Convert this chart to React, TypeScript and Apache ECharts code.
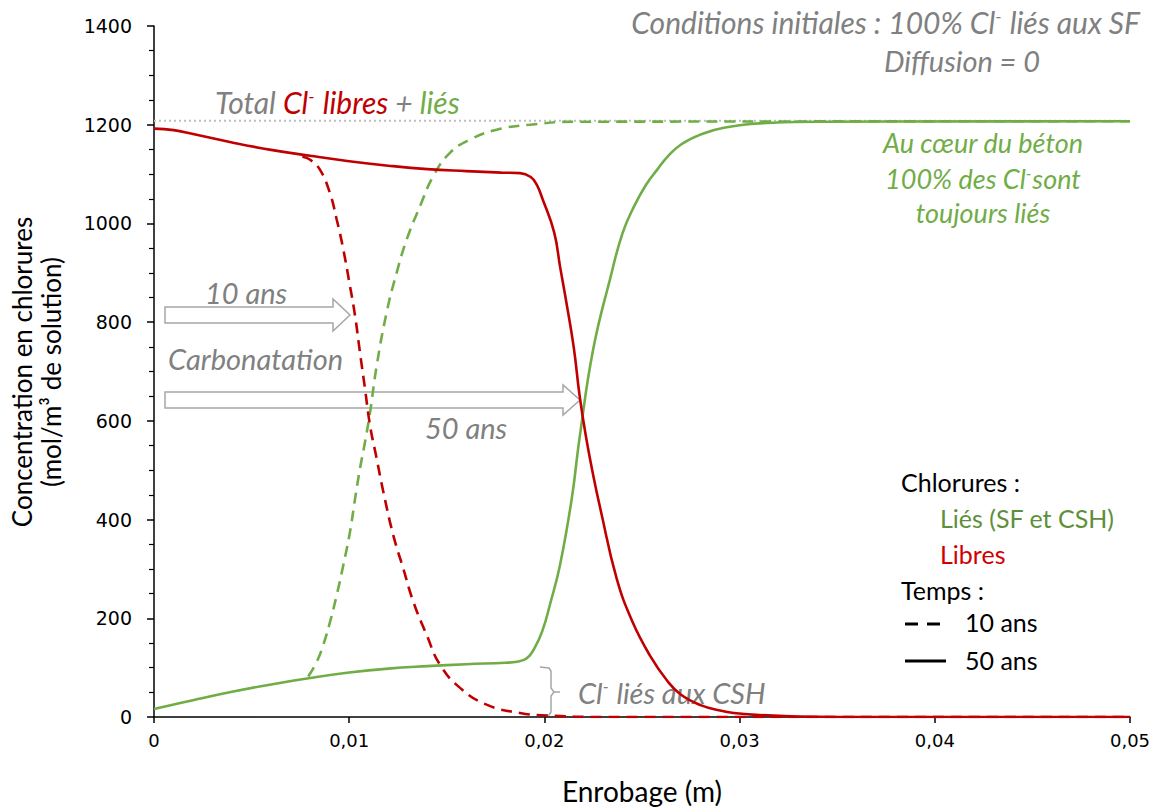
import React, { useEffect, useRef } from "react";
import * as echarts from "echarts";

// Enrobage (m), concentration (mol/m3 de solution)
const libres50: [number, number][] = [
  [0, 1192], [0.001, 1189], [0.002, 1181], [0.004, 1164], [0.006, 1149], [0.008, 1137], [0.01, 1126],
  [0.012, 1117], [0.014, 1110], [0.016, 1106], [0.0178, 1103], [0.01875, 1102], [0.0193, 1094],
  [0.0196, 1079], [0.0199, 1050], [0.0205, 982], [0.0208, 913], [0.0211, 846], [0.0215, 750],
  [0.0218, 652], [0.0221, 575], [0.0225, 490], [0.0229, 416], [0.0237, 281], [0.0245, 194],
  [0.0254, 125], [0.0263, 73], [0.027, 45], [0.028, 24], [0.029, 13], [0.0297, 8], [0.031, 4],
  [0.033, 1], [0.035, 0], [0.05, 0],
];
const lies50: [number, number][] = [
  [0, 16], [0.002, 34], [0.004, 51], [0.006, 66], [0.008, 79], [0.01, 90], [0.012, 98], [0.014, 103],
  [0.016, 107], [0.018, 110], [0.0186, 112], [0.0191, 119], [0.0195, 140], [0.0199, 175], [0.0203, 230],
  [0.0208, 308], [0.0214, 442], [0.0218, 565], [0.0225, 745], [0.0234, 893], [0.024, 980], [0.0246, 1035],
  [0.0252, 1078], [0.0258, 1110], [0.0263, 1135], [0.027, 1160], [0.028, 1180], [0.0292, 1194],
  [0.0317, 1204], [0.0343, 1206], [0.05, 1207],
];
const libres10: [number, number][] = [
  [0.0076, 1135], [0.008, 1129], [0.0085, 1109], [0.009, 1063], [0.00936, 1008], [0.0097, 947],
  [0.01004, 873], [0.0103, 813], [0.01055, 739], [0.01081, 665], [0.01107, 590], [0.01141, 523],
  [0.01175, 456], [0.01226, 368], [0.01277, 301], [0.01328, 234], [0.01397, 166], [0.01465, 106],
  [0.01568, 59], [0.01704, 25], [0.01875, 8], [0.0201, 3], [0.023, 0], [0.05, 0],
];
const lies10: [number, number][] = [
  [0.0079, 82], [0.00834, 112], [0.00867, 146], [0.00902, 193], [0.00936, 247], [0.0097, 308],
  [0.01004, 375], [0.0103, 442], [0.01055, 503], [0.01081, 557], [0.01107, 618], [0.01141, 712],
  [0.01192, 820], [0.01243, 900], [0.01295, 968], [0.01363, 1035], [0.01431, 1096], [0.01516, 1143],
  [0.01619, 1170], [0.01756, 1190], [0.01926, 1200], [0.0215, 1206], [0.05, 1207],
];
const totalLine: [number, number][] = [[0, 1208], [0.05, 1208]];

const RED = "#c00000";
const GREEN = "#70ad47";
const GRAY = "#808080";
const FONT = "Lato, 'Open Sans', sans-serif";
const NUMFONT = "'DejaVu Sans', sans-serif";

export default function App() {
  const ref = useRef<HTMLDivElement>(null);
  useEffect(() => {
    const chart = echarts.init(ref.current!, null, { renderer: "svg" });
    const lineSeries = (name: string, data: [number, number][], color: string, dashed: boolean, z: number) => ({
      name,
      type: "line",
      data,
      symbol: "none",
      smooth: 0.45,
      z,
      lineStyle: { color, width: 2.6, type: dashed ? [11, 7] : "solid" },
    });
    const it = (text: string, x: number, y: number, color: string, size = 28, align = "left") => ({
      type: "text",
      x,
      y,
      style: { text, fill: color, font: `italic ${size}px ${FONT}`, align, verticalAlign: "middle" },
    });
    const arrow = (x0: number, x1: number, xh: number, yc: number, bh: number, hh: number) => ({
      type: "polygon",
      shape: {
        points: [
          [x0, yc - bh], [xh, yc - bh], [xh, yc - hh], [x1, yc], [xh, yc + hh], [xh, yc + bh], [x0, yc + bh],
        ],
      },
      style: { fill: "rgba(255,255,255,0)", stroke: "#a6a6a6", lineWidth: 1.5 },
    });
    const sup = (color: string, size: number) => ({
      fill: color,
      font: `italic ${size}px ${FONT}`,
      verticalAlign: "top",
      padding: [0, 1, 12, 0],
    });
    chart.setOption({
      animation: false,
      grid: { left: 154, right: 30, top: 26, bottom: 91 },
      xAxis: {
        type: "value",
        min: 0,
        max: 0.05,
        interval: 0.01,
        name: "Enrobage (m)",
        nameLocation: "middle",
        nameGap: 60,
        nameTextStyle: { fontFamily: FONT, fontSize: 28, color: "#000" },
        axisLine: { lineStyle: { color: "#000", width: 1.5 } },
        axisTick: { length: 6, lineStyle: { color: "#000", width: 1.5 } },
        axisLabel: {
          fontFamily: NUMFONT,
          fontSize: 18,
          color: "#000",
          margin: 14,
          formatter: (v: number) => (v === 0 ? "0" : v.toFixed(2).replace(".", ",")),
        },
        splitLine: { show: false },
      },
      yAxis: {
        type: "value",
        min: 0,
        max: 1400,
        interval: 200,
        axisLine: { show: true, lineStyle: { color: "#000", width: 1.5 } },
        axisTick: { show: true, length: 7, lineStyle: { color: "#000", width: 1.5 } },
        minorTick: { show: true, splitNumber: 4, length: 5, lineStyle: { color: "#000", width: 1.2 } },
        axisLabel: { fontFamily: NUMFONT, fontSize: 19, color: "#000", margin: 22, formatter: (v: number) => String(v) },
        splitLine: { show: false },
      },
      series: [
        {
          name: "Total",
          type: "line",
          data: totalLine,
          symbol: "none",
          z: 1,
          lineStyle: { color: "#bfbfbf", width: 2, type: [2, 3] },
        },
        lineSeries("Liés 10 ans", lies10, GREEN, true, 2),
        lineSeries("Libres 10 ans", libres10, RED, true, 2),
        lineSeries("Liés 50 ans", lies50, GREEN, false, 3),
        lineSeries("Libres 50 ans", libres50, RED, false, 3),
      ],
      graphic: [
        {
          type: "text",
          x: 22,
          y: 372,
          rotation: Math.PI / 2,
          style: { text: "Concentration en chlorures", fill: "#000", font: `26px ${FONT}`, align: "center", verticalAlign: "middle" },
        },
        {
          type: "text",
          x: 51,
          y: 372,
          rotation: Math.PI / 2,
          style: { text: "(mol/m³ de solution)", fill: "#000", font: `26px ${FONT}`, align: "center", verticalAlign: "middle" },
        },
        {
          type: "text",
          x: 1140,
          y: 22,
          style: {
            text: "{n|Conditions initiales : 100% Cl}{s|-}{n| liés aux SF}",
            align: "right",
            verticalAlign: "middle",
            rich: {
              n: { fill: GRAY, font: `italic 30px ${FONT}` },
              s: sup(GRAY, 18),
            },
          },
        },
        it("Diffusion = 0", 962, 60, GRAY, 29, "center"),
        {
          type: "text",
          x: 215,
          y: 102,
          style: {
            text: "{g|Total }{r|Cl}{rs|-}{r| libres }{g|+ }{v|liés}",
            verticalAlign: "middle",
            rich: {
              g: { fill: GRAY, font: `italic 30px ${FONT}` },
              r: { fill: RED, font: `italic 30px ${FONT}` },
              rs: sup(RED, 18),
              v: { fill: GREEN, font: `italic 30px ${FONT}` },
            },
          },
        },
        it("Au cœur du béton", 983, 142, GREEN, 27, "center"),
        {
          type: "text",
          x: 983,
          y: 178,
          style: {
            text: "{n|100% des Cl}{s|-}{n|sont}",
            align: "center",
            verticalAlign: "middle",
            rich: {
              n: { fill: GREEN, font: `italic 27px ${FONT}` },
              s: sup(GREEN, 16),
            },
          },
        },
        it("toujours liés", 983, 212, GREEN, 27, "center"),
        arrow(165, 350, 333, 315, 8, 16),
        arrow(165, 580, 563, 400, 8, 15),
        it("10 ans", 205, 292, GRAY, 29),
        it("Carbonatation", 168, 358, GRAY, 29),
        it("50 ans", 425, 427, GRAY, 29),
        {
          type: "text",
          x: 578,
          y: 692,
          style: {
            text: "{n|Cl}{s|-}{n| liés aux CSH}",
            verticalAlign: "middle",
            rich: {
              n: { fill: GRAY, font: `italic 29px ${FONT}` },
              s: sup(GRAY, 17),
            },
          },
        },
        {
          type: "polyline",
          shape: {
            points: [[540, 667], [549, 668], [551, 671], [551, 688], [554, 692], [551, 696], [551, 712], [549, 715], [540, 716]],
          },
          style: { stroke: "#a6a6a6", lineWidth: 1.5, fill: "none" },
        },
        { type: "line", shape: { x1: 553, y1: 692, x2: 560, y2: 692 }, style: { stroke: "#a6a6a6", lineWidth: 1.5 } },
        { type: "text", x: 901, y: 482, style: { text: "Chlorures :", fill: "#000", font: `25px ${FONT}`, verticalAlign: "middle" } },
        { type: "text", x: 940, y: 518, style: { text: "Liés (SF et CSH)", fill: "#5e8f3a", font: `25px ${FONT}`, verticalAlign: "middle" } },
        { type: "text", x: 940, y: 554, style: { text: "Libres", fill: "#d00000", font: `25px ${FONT}`, verticalAlign: "middle" } },
        { type: "text", x: 901, y: 590, style: { text: "Temps :", fill: "#000", font: `25px ${FONT}`, verticalAlign: "middle" } },
        { type: "line", shape: { x1: 905, y1: 624, x2: 946, y2: 624 }, style: { stroke: "#000", lineWidth: 3, lineDash: [13, 9] } },
        { type: "text", x: 965, y: 622, style: { text: "10 ans", fill: "#000", font: `25px ${FONT}`, verticalAlign: "middle" } },
        { type: "line", shape: { x1: 905, y1: 661, x2: 946, y2: 661 }, style: { stroke: "#000", lineWidth: 3 } },
        { type: "text", x: 965, y: 660, style: { text: "50 ans", fill: "#000", font: `25px ${FONT}`, verticalAlign: "middle" } },
      ],
    });
    return () => chart.dispose();
  }, []);
  return <div ref={ref} style={{ position: "fixed", left: 0, top: 0, width: 1160, height: 810, background: "#fff" }} />;
}
